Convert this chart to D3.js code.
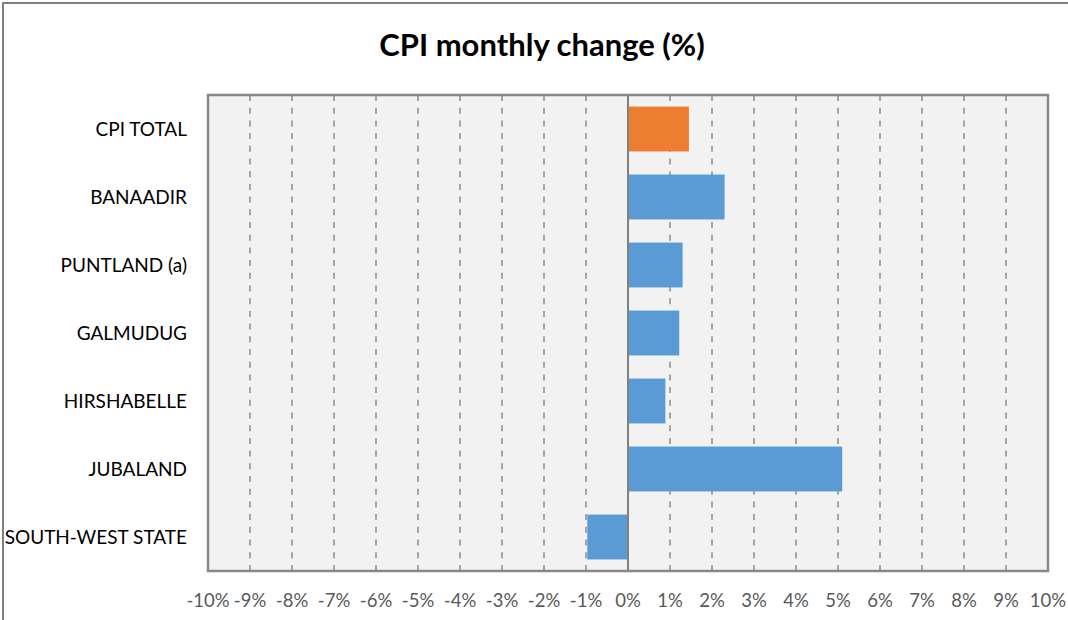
<!doctype html>
<html lang="en">
  <head>
    <meta charset="UTF-8" />
    <title>CPI monthly change</title>
    <script src="https://unpkg.com/d3@7.9.0/dist/d3.min.js"></script>
    <style>
      body {
        margin: 0;
        background: #fff;
      }
      svg {
        display: block;
        font-family: Lato, 'Open Sans', sans-serif;
      }
    </style>
  </head>
  <body>
    <div id="chart"></div>
    <script>
      const regions = [
        'CPI TOTAL',
        'BANAADIR',
        'PUNTLAND (a)',
        'GALMUDUG',
        'HIRSHABELLE',
        'JUBALAND',
        'SOUTH-WEST STATE',
      ];
      const changes = [1.45, 2.3, 1.3, 1.22, 0.89, 5.1, -0.97];
      const tickValues = d3.range(-10, 11, 1);

      const W = 1068;
      const H = 620;
      const margin = { top: 95, right: 20, bottom: 49, left: 208 };
      const width = 1048 - margin.left;
      const height = 571 - margin.top;

      const svg = d3
        .select('#chart')
        .append('svg')
        .attr('width', W)
        .attr('height', H);

      // outer chart border (cut by the window on right/bottom)
      svg
        .append('rect')
        .attr('x', 3)
        .attr('y', 3)
        .attr('width', W + 10)
        .attr('height', H + 10)
        .attr('fill', 'none')
        .attr('stroke', '#7f7f7f')
        .attr('stroke-width', 2);

      svg
        .append('text')
        .attr('x', 542)
        .attr('y', 56)
        .attr('text-anchor', 'middle')
        .style('font-size', '31px')
        .style('font-weight', 'bold')
        .style('fill', '#000')
        .text('CPI monthly change (%)');

      const g = svg
        .append('g')
        .attr('transform', `translate(${margin.left},${margin.top})`);

      const x = d3.scaleLinear().domain([-10, 10]).range([0, width]);
      const y = d3
        .scaleBand()
        .domain(regions)
        .range([0, height])
        .paddingInner(0.34)
        .paddingOuter(0.17);

      g.append('rect')
        .attr('width', width)
        .attr('height', height)
        .attr('fill', '#f2f2f2');

      // dashed gridlines
      g.selectAll('.grid')
        .data(tickValues.filter((d) => d !== 0 && Math.abs(d) !== 10))
        .enter()
        .append('line')
        .attr('class', 'grid')
        .attr('x1', (d) => x(d))
        .attr('x2', (d) => x(d))
        .attr('y1', 0)
        .attr('y2', height)
        .attr('stroke', '#8c8c8c')
        .attr('stroke-width', 1.5)
        .attr('stroke-dasharray', '6,6.7');

      // bars
      g.selectAll('.bar')
        .data(regions)
        .enter()
        .append('rect')
        .attr('class', 'bar')
        .attr('x', (d, i) => x(Math.min(0, changes[i])))
        .attr('y', (d) => y(d))
        .attr('width', (d, i) => Math.abs(x(changes[i]) - x(0)))
        .attr('height', y.bandwidth())
        .attr('fill', (d, i) => (i === 0 ? '#ed7d31' : '#5b9bd5'));

      // zero axis line
      g.append('line')
        .attr('x1', x(0))
        .attr('x2', x(0))
        .attr('y1', 0)
        .attr('y2', height)
        .attr('stroke', '#808080')
        .attr('stroke-width', 2);

      // plot border
      g.append('rect')
        .attr('width', width)
        .attr('height', height)
        .attr('fill', 'none')
        .attr('stroke', '#888')
        .attr('stroke-width', 2.5);

      // category labels
      g.selectAll('.cat')
        .data(regions)
        .enter()
        .append('text')
        .attr('class', 'cat')
        .attr('x', -21)
        .attr('y', (d) => y(d) + y.bandwidth() / 2)
        .attr('dy', '0.35em')
        .attr('text-anchor', 'end')
        .style('font-size', '19px')
        .style('fill', '#000')
        .text((d) => d);

      // x tick labels
      g.selectAll('.tick-label')
        .data(tickValues)
        .enter()
        .append('text')
        .attr('class', 'tick-label')
        .attr('x', (d) => x(d))
        .attr('y', height + 36)
        .attr('text-anchor', 'middle')
        .style('font-size', '18.5px')
        .style('fill', '#595959')
        .text((d) => d + '%');
    </script>
  </body>
</html>
